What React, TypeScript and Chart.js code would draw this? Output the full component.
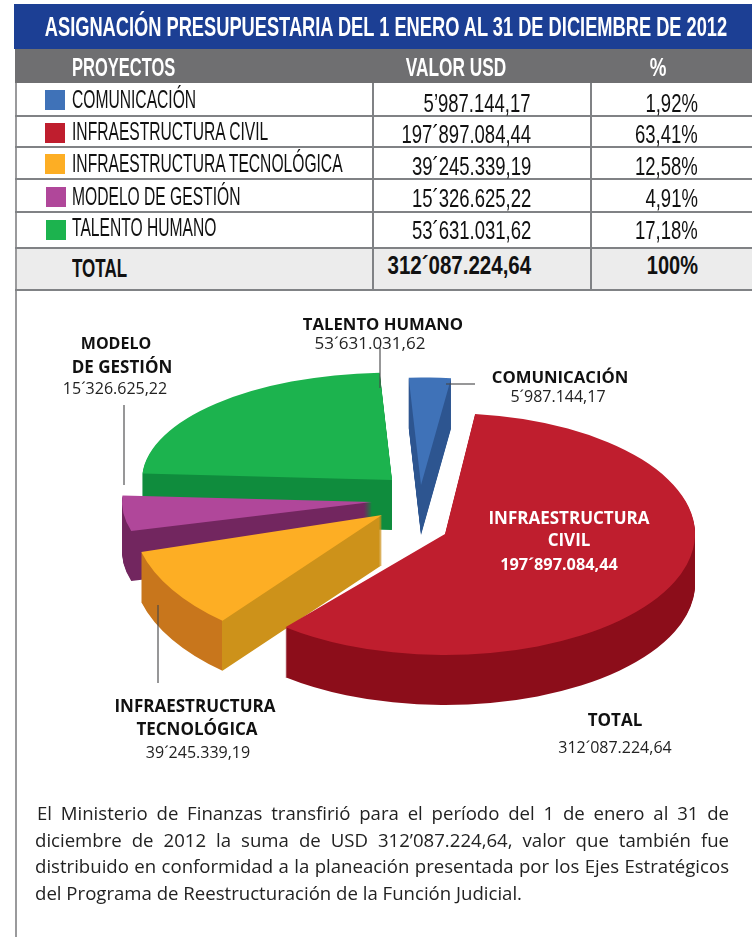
import React, { useEffect, useRef } from "react";
import { Chart, registerables } from "chart.js";

Chart.register(...registerables);

const TITLE = "ASIGNACIÓN PRESUPUESTARIA DEL 1 ENERO AL 31 DE DICIEMBRE DE 2012";
const NAMES = ["COMUNICACIÓN", "INFRAESTRUCTURA CIVIL", "INFRAESTRUCTURA TECNOLÓGICA", "MODELO DE GESTIÓN", "TALENTO HUMANO"];
const VALUES = [5987144.17, 197897084.44, 39245339.19, 15326625.22, 53631031.62];
const VALUE_TEXT = ["5’987.144,17", "197´897.084,44", "39´245.339,19", "15´326.625,22", "53´631.031,62"];
const PCT_TEXT = ["1,92%", "63,41%", "12,58%", "4,91%", "17,18%"];
const TOTAL_TEXT = "312´087.224,64";
const PARAGRAPH = [
  "El Ministerio de Finanzas transfirió para el período del 1 de enero al 31 de",
  "diciembre de 2012 la suma de USD 312’087.224,64, valor que también fue",
  "distribuido en conformidad a la planeación presentada por los Ejes Estratégicos",
  "del Programa de Reestructuración de la Función Judicial.",
];

const FACE = ["#3f72b8", "#bf1e2e", "#fdae24", "#b0479a", "#1cb34e"];
const WALL = ["#2d5590", "#8c0d1a", "#c8761c", "#72265f", "#0f8c3d"];
const CUT = ["#2d5590", "#8c0d1a", "#cd921a", "#72265f", "#0f8c3d"];
const EXPLODE_X = [21, 45, -18, -28, -8];
const EXPLODE_Y = [-15, 34, 15, 2, -20];
const SQUASH = [0.43, 0.484, 0.55, 0.43, 0.43];
const DRAW_ORDER = [4, 0, 3, 2, 1];
const DEPTH = 50;
const RADIUS = 250;
const ROTATION = -2;
const VIEW_SKEW_1 = 0.38;
const VIEW_SKEW_2 = 0.06;
const VIEW_SKEW_3 = -0.03;

const ROW_LINES = [116, 147, 179, 212, 248, 290];
const SWATCH_TOPS = [90, 123, 154, 187, 220];
const NAME_BASE = [108, 140, 172, 205, 236];
const VALUE_BASE = [112, 143, 175, 207, 239];

const viewAngle = (a: number) => {
  const t = a + Math.PI / 2;
  return t + VIEW_SKEW_1 * Math.sin(t) + VIEW_SKEW_2 * Math.sin(2 * t) + VIEW_SKEW_3 * Math.sin(3 * t) - Math.PI / 2;
};

const pie3d = {
  id: "pie3d",
  beforeDatasetDraw(chart: any) {
    const ctx = chart.ctx;
    const arcs = chart.getDatasetMeta(0).data;
    DRAW_ORDER.forEach((i) => {
      const arc = arcs[i];
      const saved = [arc.startAngle, arc.endAngle, arc.circumference, arc.options];
      arc.startAngle = viewAngle(saved[0]);
      arc.endAngle = viewAngle(saved[1]);
      arc.circumference = arc.endAngle - arc.startAngle;
      const cornerX = arc.x + RADIUS * Math.cos(arc.startAngle);
      const grad = ctx.createLinearGradient(0, 0, 800, 0);
      const stop = Math.min(1, Math.max(0, cornerX / 800));
      grad.addColorStop(0, WALL[i]);
      grad.addColorStop(stop, WALL[i]);
      grad.addColorStop(stop, CUT[i]);
      grad.addColorStop(1, CUT[i]);
      const layer = (fill: any, d: number) => {
        ctx.save();
        ctx.translate(arc.x + EXPLODE_X[i], arc.y + EXPLODE_Y[i] + d);
        ctx.scale(1, SQUASH[i]);
        ctx.translate(-arc.x, -arc.y);
        arc.options = { ...saved[3], backgroundColor: fill, borderWidth: 0 };
        arc.draw(ctx);
        ctx.restore();
      };
      for (let d = DEPTH; d >= 1; d--) layer(grad, d);
      layer(FACE[i], 0);
      [arc.startAngle, arc.endAngle, arc.circumference, arc.options] = saved;
    });
    return false;
  },
};

const BOLD = 'bold 17px "Open Sans"';
const REG = '16px "Open Sans"';
const LABELS: [string, number, number, string, string][] = [
  ["TALENTO HUMANO", 383, 330, 'bold 16.7px "Open Sans"', "#111"],
  [VALUE_TEXT[4], 370, 349, '17px "Open Sans"', "#222"],
  ["MODELO", 116, 349, 'bold 16px "Open Sans"', "#111"],
  ["DE GESTIÓN", 122, 373, BOLD, "#111"],
  [VALUE_TEXT[3], 115, 394, REG, "#222"],
  ["COMUNICACIÓN", 560, 383, 'bold 16.7px "Open Sans"', "#111"],
  ["5´987.144,17", 558, 402, REG, "#222"],
  ["INFRAESTRUCTURA", 195, 712, BOLD, "#111"],
  ["TECNOLÓGICA", 197, 735, BOLD, "#111"],
  [VALUE_TEXT[2], 198, 758, REG, "#222"],
  ["INFRAESTRUCTURA", 569, 524, BOLD, "#fff"],
  ["CIVIL", 569, 546, BOLD, "#fff"],
  [VALUE_TEXT[1], 559, 570, 'bold 16.3px "Open Sans"', "#fff"],
  ["TOTAL", 615, 726, BOLD, "#111"],
  [TOTAL_TEXT, 615, 753, REG, "#222"],
];
const LEADERS = [
  [380, 348, 380, 388],
  [124, 405, 124, 485],
  [158, 605, 158, 683],
  [446, 384, 475, 384],
];

const labels = {
  id: "labels3d",
  afterDraw(chart: any) {
    const ctx = chart.ctx;
    ctx.save();
    ctx.strokeStyle = "rgba(70,70,72,0.75)";
    ctx.lineWidth = 1.5;
    LEADERS.forEach(([a, b, c, d]) => {
      ctx.beginPath();
      ctx.moveTo(a, b);
      ctx.lineTo(c, d);
      ctx.stroke();
    });
    ctx.textAlign = "center";
    ctx.textBaseline = "alphabetic";
    LABELS.forEach(([t, x, y, f, c]) => {
      ctx.font = f;
      ctx.fillStyle = c;
      ctx.fillText(t, x, y);
    });
    ctx.restore();
  },
};

const FONT = '"Liberation Sans", sans-serif';

function T({ text, x, base, size, bold, color, align = "left", sx = 1 }: any) {
  const style: React.CSSProperties = {
    position: "absolute",
    top: base - size * 0.9465,
    lineHeight: `${size * 1.2}px`,
    height: size * 1.2,
    fontFamily: FONT,
    fontSize: size,
    fontWeight: bold ? 700 : 400,
    color: color || "#111",
    whiteSpace: "nowrap",
    transform: `scaleX(${sx})`,
    transformOrigin: align === "right" ? "right" : align === "center" ? "center" : "left",
  };
  if (align === "right") style.right = 752 - x;
  else if (align === "center") { style.left = x - 600; style.width = 1200; style.textAlign = "center"; }
  else style.left = x;
  return <div style={style}>{text}</div>;
}

const Box = ({ l, t, w, h, c }: any) => (
  <div style={{ position: "absolute", left: l, top: t, width: w, height: h, background: c }} />
);

export default function App() {
  const ref = useRef<HTMLCanvasElement | null>(null);
  useEffect(() => {
    const chart = new Chart(ref.current as HTMLCanvasElement, {
      type: "pie",
      data: { labels: NAMES, datasets: [{ data: VALUES, backgroundColor: FACE, borderWidth: 0 }] },
      options: {
        responsive: false,
        animation: false,
        radius: RADIUS,
        rotation: ROTATION,
        layout: { padding: { left: 48, top: 63 } },
        plugins: { legend: { display: false }, tooltip: { enabled: false } },
      },
      plugins: [pie3d, labels],
    } as any);
    return () => chart.destroy();
  }, []);

  return (
    <div style={{ position: "absolute", left: 0, top: 0, width: 752, height: 937, overflow: "hidden", background: "#fff" }}>
      <canvas ref={ref} width={752} height={937} style={{ position: "absolute", left: 0, top: 0, display: "block" }} />
      <Box l={14} t={4} w={738} h={45} c="#1c3f94" />
      <Box l={15} t={49} w={737} h={34} c="#6f6f71" />
      <Box l={15} t={248} w={737} h={42} c="#ececec" />
      <Box l={15} t={83} w={1.5} h={854} c="#9a9a9c" />
      {ROW_LINES.map((y) => <Box key={y} l={15} t={y - 1} w={737} h={1.5} c="#808285" />)}
      <Box l={372} t={83} w={1.5} h={207} c="#808285" />
      <Box l={590} t={83} w={1.5} h={207} c="#808285" />
      <T text={TITLE} x={386} base={37} size={28} bold color="#fff" align="center" sx={0.652} />
      <T text="PROYECTOS" x={72} base={76} size={25} bold color="#fff" sx={0.66} />
      <T text="VALOR USD" x={456} base={76} size={25} bold color="#fff" align="center" sx={0.69} />
      <T text="%" x={658} base={76} size={25} bold color="#fff" align="center" sx={0.75} />
      {NAMES.map((n, i) => (
        <React.Fragment key={n}>
          <Box l={i > 2 ? 46 : 45} t={SWATCH_TOPS[i]} w={20} h={20} c={FACE[i]} />
          <T text={n} x={72} base={NAME_BASE[i]} size={25} sx={0.625} />
          <T text={VALUE_TEXT[i]} x={531} base={VALUE_BASE[i]} size={25} align="right" sx={0.74} />
          <T text={PCT_TEXT[i]} x={698} base={VALUE_BASE[i]} size={25} align="right" sx={0.74} />
        </React.Fragment>
      ))}
      <T text="TOTAL" x={72} base={277} size={25} bold sx={0.68} />
      <T text={TOTAL_TEXT} x={531} base={274} size={25} bold align="right" sx={0.82} />
      <T text="100%" x={698} base={274} size={25} bold align="right" sx={0.8} />
      {PARAGRAPH.map((line, i) => (
        <div
          key={i}
          style={{
            position: "absolute",
            left: i === 0 ? 37 : 35,
            top: 800 + i * 26.5,
            width: i === 0 ? 692 : 694,
            height: 26,
            overflow: "hidden",
            fontFamily: '"Open Sans", sans-serif',
            fontSize: 18.6,
            lineHeight: "26px",
            color: "#222",
            textAlign: "justify",
            textAlignLast: i === 3 ? "left" : "justify",
          }}
        >
          {line}
        </div>
      ))}
    </div>
  );
}
